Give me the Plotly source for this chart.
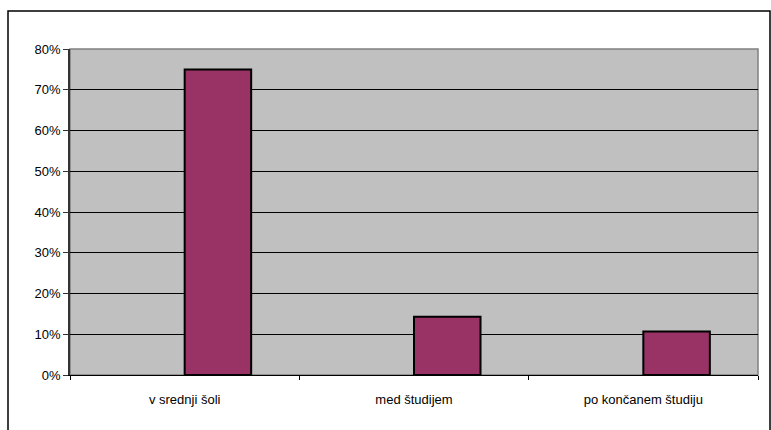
import plotly.graph_objects as go

# Categories and shares (fractions)
categories = ["v srednji šoli", "med študijem", "po končanem študiju"]
shares = [0.75, 0.143, 0.107]
y_ticks = [0, 0.1, 0.2, 0.3, 0.4, 0.5, 0.6, 0.7, 0.8]
y_tick_labels = ["0%", "10%", "20%", "30%", "40%", "50%", "60%", "70%", "80%"]

W, H = 771, 430
ML, MR, MT, MB = 70, 13, 49, 55
pw, ph = W - ML - MR, H - MT - MB

def px_to_paper_x(px):
    return (px - ML) / pw

def px_to_paper_y(py):
    return (H - MB - py) / ph

fig = go.Figure()
fig.add_trace(go.Bar(
    x=categories,
    y=shares,
    offset=0,
    width=0.29,
    marker=dict(color="#993366", line=dict(color="#000000", width=2)),
    hoverinfo="skip",
))

fig.update_layout(
    width=W,
    height=H,
    margin=dict(l=ML, r=MR, t=MT, b=MB),
    paper_bgcolor="#FFFFFF",
    plot_bgcolor="#C0C0C0",
    showlegend=False,
    font=dict(family="Liberation Sans, Arial, sans-serif", size=13, color="#000000"),
    xaxis=dict(
        type="category",
        range=[-0.5, 2.5],
        showgrid=False,
        showline=True,
        linecolor="#000000",
        linewidth=1,
        ticks="outside",
        tickson="boundaries",
        ticklen=4,
        tickcolor="#000000",
        tickfont=dict(size=13),
        ticklabelstandoff=12,
        fixedrange=True,
    ),
    yaxis=dict(
        range=[0, 0.8],
        tickvals=y_ticks,
        ticktext=y_tick_labels,
        showgrid=True,
        gridcolor="#000000",
        gridwidth=1,
        showline=True,
        linecolor="#333333",
        linewidth=1.5,
        ticks="outside",
        ticklen=5,
        tickcolor="#333333",
        tickfont=dict(size=13),
        zeroline=False,
        fixedrange=True,
    ),
    shapes=[
        # plot area frame
        dict(type="rect", xref="paper", yref="paper", x0=0, x1=1, y0=0, y1=1,
             line=dict(color="#808080", width=1.5), layer="below"),
        # outer chart frame
        dict(type="rect", xref="paper", yref="paper",
             x0=px_to_paper_x(8), x1=px_to_paper_x(770),
             y0=px_to_paper_y(440), y1=px_to_paper_y(11),
             line=dict(color="#000000", width=1.5)),
    ],
)

fig.write_html("out.html")
